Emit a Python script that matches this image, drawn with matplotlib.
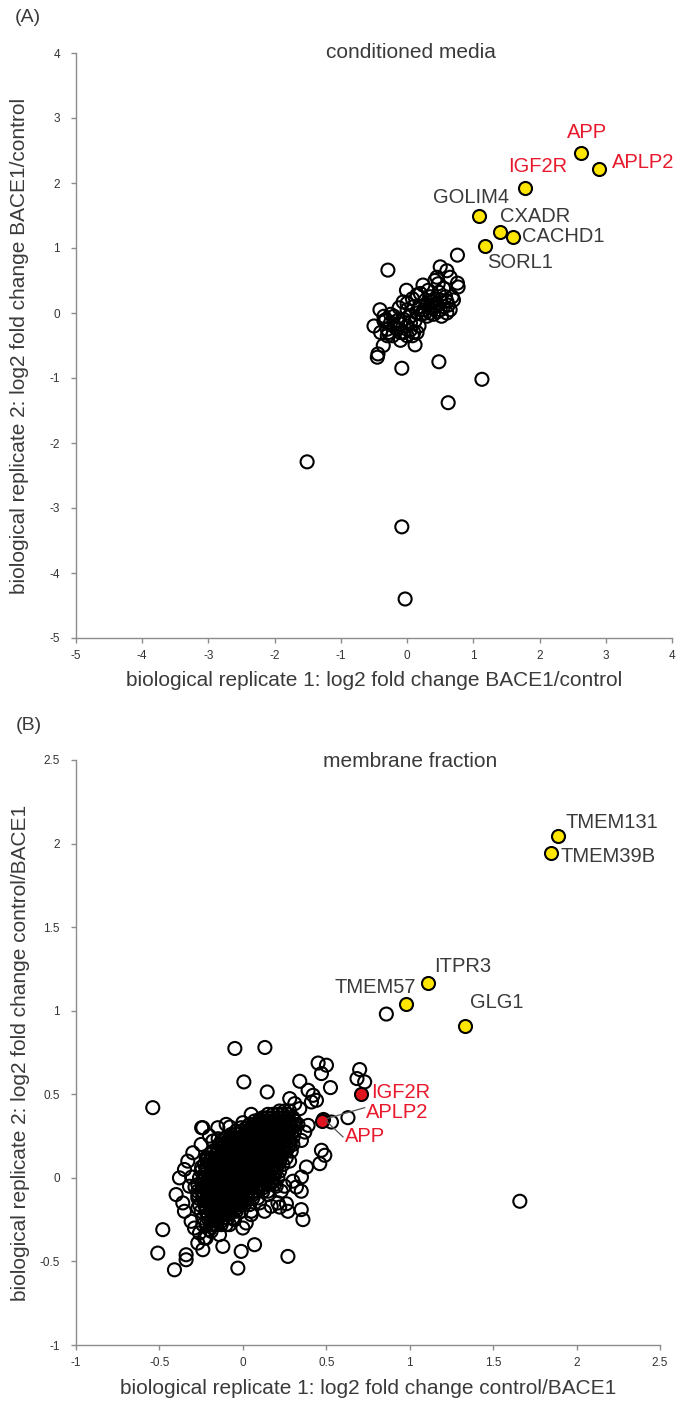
import matplotlib
matplotlib.use("Agg")
import matplotlib.pyplot as plt

plt.rcParams['font.family'] = ['Liberation Sans', 'DejaVu Sans']

W, H = 684, 1408
TXT = '#3a3a3a'
RED = '#e8192c'
YEL = '#ffe600'

# ---- panel A: conditioned media ----
a_open_x = [-1.51, -0.08, -0.03, 1.13, 0.62, 0.48, -0.08, -0.45, -0.44, -0.36, 0.12,
            -0.5, -0.1, -0.01, 0.5, 0.42, 0.45, 0.47, 0.76, 0.77, 0.24, 0.15, 0.68,
            -0.06, -0.41, -0.32, -0.3, -0.28, 0.05, 0.1, -0.29, 0.76,
            0.2, 0.25, 0.3, 0.35, 0.4, 0.45, 0.5, 0.55, 0.6, 0.3, 0.38, 0.42, 0.5,
            0.58, 0.62, 0.35, 0.28, 0.22, 0.15, 0.1, 0.05, 0.0, -0.05, -0.15, -0.2,
            -0.25, -0.18, -0.1, 0.0, 0.05, 0.12, 0.18, 0.2, 0.32, 0.48, 0.55, 0.4,
            0.46, 0.52, 0.6, 0.65, 0.7, 0.33, 0.37, 0.43, 0.27, -0.35, -0.4, -0.22,
            0.08, 0.0, -0.12, 0.65, 0.6, -0.35, -0.25, -0.2, -0.15, -0.05, 0.0,
            0.08, 0.15, -0.3, -0.1]
a_open_y = [-2.29, -3.29, -4.4, -1.02, -1.38, -0.75, -0.85, -0.68, -0.63, -0.5, -0.49,
            -0.2, -0.17, 0.35, 0.71, 0.5, 0.55, 0.45, 0.46, 0.4, 0.43, 0.28, 0.25,
            0.17, 0.05, -0.1, -0.25, -0.3, -0.26, -0.3, 0.66, 0.89,
            0.1, 0.05, 0.12, 0.0, 0.08, 0.15, 0.2, 0.1, 0.18, -0.05, 0.18, 0.22, 0.05,
            0.25, 0.12, 0.25, 0.2, -0.02, 0.0, 0.1, -0.05, 0.05, -0.1, -0.12, -0.05,
            -0.15, -0.22, -0.3, -0.35, -0.15, -0.12, -0.2, 0.3, 0.35, 0.32, 0.38, -0.02,
            0.02, -0.05, 0.0, 0.05, 0.2, 0.08, 0.12, 0.1, 0.0, -0.12, -0.3, -0.35,
            0.22, 0.15, 0.08, 0.55, 0.65, -0.05, -0.02, -0.18, -0.25, -0.3, -0.2,
            -0.35, -0.3, -0.35, -0.42]

a_genes = ['APP', 'APLP2', 'IGF2R', 'GOLIM4', 'CXADR', 'CACHD1', 'SORL1']
a_gene_x = [2.62, 2.9, 1.78, 1.08, 1.4, 1.6, 1.17]
a_gene_y = [2.46, 2.22, 1.92, 1.5, 1.25, 1.17, 1.03]
a_gene_red = [True, True, True, False, False, False, False]
# label anchor (x, y) and horizontal alignment
a_lab_x = [2.72, 3.1, 1.97, 0.96, 1.4, 1.74, 1.21]
a_lab_y = [2.78, 2.31, 2.25, 1.78, 1.49, 1.17, 0.77]
a_lab_ha = ['center', 'left', 'center', 'center', 'left', 'left', 'left']

# ---- panel B: membrane fraction ----
b_open_x = [0.86, 1.66, -0.54, -0.048, 0.132, 0.006, 0.146, 0.451, 0.501, 0.471, 0.525,
            0.70, 0.684, 0.73, 0.63, 0.531, 0.341, 0.391, 0.421, 0.441, 0.411, 0.281,
            0.311, 0.341, -0.247, -0.148, -0.128, -0.078, -0.307, -0.287, -0.217,
            -0.247, 0.321, 0.351, 0.381, 0.461, 0.471, 0.491, 0.391, 0.371, 0.351,
            0.261, 0.221,
            -0.48, -0.51, -0.41, -0.34, -0.34, -0.24, -0.27, -0.12, -0.03, -0.01,
            0.07, 0.27, 0.27, 0.35, 0.36, 0.35, -0.31, -0.29, -0.27, -0.27, -0.08,
            0.02, 0.05, 0.13, 0.17, 0.21, 0.23, -0.19, -0.14, -0.23,
            -0.4, -0.38, -0.35, -0.33, -0.3, -0.25, -0.2, -0.15, -0.1, -0.32, -0.36,
            -0.35, -0.22, -0.18, -0.24, -0.15, 0.05, 0.1, 0.0, 0.1, 0.15, 0.2, 0.05,
            -0.05, -0.1, 0.0, -0.18, 0.3, 0.28, 0.25, -0.26, -0.22, -0.2, -0.24]
b_open_y = [0.98, -0.14, 0.42, 0.774, 0.78, 0.574, 0.514, 0.687, 0.674, 0.624, 0.54,
            0.648, 0.594, 0.574, 0.36, 0.334, 0.578, 0.524, 0.494, 0.464, 0.454, 0.474,
            0.444, 0.414, 0.30, 0.234, 0.204, 0.304, 0.005, -0.055, 0.105,
            0.065, -0.055, 0.005, 0.065, 0.085, 0.165, 0.135, 0.314, 0.274, 0.224,
            -0.155, -0.175,
            -0.31, -0.45, -0.55, -0.46, -0.49, -0.43, -0.39, -0.41, -0.54, -0.44,
            -0.4, -0.47, -0.2, -0.19, -0.25, -0.08, -0.26, -0.3, -0.18, -0.1, -0.28,
            -0.27, -0.22, -0.2, -0.17, -0.15, -0.08, -0.32, -0.34, -0.36,
            -0.1, 0.0, 0.05, 0.1, 0.15, 0.2, 0.25, 0.3, 0.32, -0.05, -0.15,
            -0.2, 0.12, 0.22, 0.3, 0.12, 0.38, 0.35, 0.33, -0.15, -0.1, -0.05, -0.2,
            -0.25, -0.2, -0.3, -0.28, -0.02, 0.1, -0.05, -0.33, -0.36, -0.31, -0.28]

# dense core of panel B, read row by row (two staggered passes)
b_core_y = [0.40, 0.38, 0.36, 0.34, 0.32, 0.30, 0.28, 0.26, 0.24, 0.22, 0.20, 0.18,
            0.16, 0.14, 0.12, 0.10, 0.08, 0.06, 0.04, 0.02, 0.00, -0.02, -0.04,
            -0.06, -0.08, -0.10, -0.12, -0.14, -0.16, -0.18, -0.20, -0.22, -0.24,
            -0.26, -0.28]
b_core_x = [
    [0.22, 0.28],
    [0.15, 0.21, 0.27],
    [0.12, 0.18, 0.24, 0.30],
    [0.07, 0.13, 0.19, 0.25, 0.31],
    [0.04, 0.10, 0.16, 0.22, 0.28, 0.33],
    [-0.01, 0.05, 0.11, 0.17, 0.23, 0.29],
    [-0.04, 0.02, 0.08, 0.14, 0.20, 0.26, 0.31],
    [-0.07, -0.02, 0.03, 0.09, 0.15, 0.21, 0.27],
    [-0.10, -0.05, 0.0, 0.06, 0.12, 0.18, 0.24, 0.30],
    [-0.12, -0.07, -0.01, 0.05, 0.11, 0.17, 0.23, 0.28],
    [-0.14, -0.09, -0.04, 0.02, 0.08, 0.14, 0.20, 0.26, 0.30],
    [-0.15, -0.09, -0.03, 0.03, 0.09, 0.15, 0.21, 0.27],
    [-0.18, -0.12, -0.06, 0.0, 0.06, 0.12, 0.18, 0.24, 0.29],
    [-0.19, -0.13, -0.07, -0.01, 0.05, 0.11, 0.17, 0.23],
    [-0.21, -0.15, -0.09, -0.03, 0.03, 0.09, 0.15, 0.21, 0.26],
    [-0.20, -0.14, -0.08, -0.02, 0.04, 0.10, 0.16, 0.22],
    [-0.23, -0.17, -0.11, -0.05, 0.01, 0.07, 0.13, 0.19, 0.24],
    [-0.22, -0.16, -0.10, -0.04, 0.02, 0.08, 0.14, 0.20],
    [-0.25, -0.19, -0.13, -0.07, -0.01, 0.05, 0.11, 0.17, 0.22],
    [-0.23, -0.17, -0.11, -0.05, 0.01, 0.07, 0.13, 0.19],
    [-0.26, -0.20, -0.14, -0.08, -0.02, 0.04, 0.10, 0.16, 0.21],
    [-0.24, -0.18, -0.12, -0.06, 0.0, 0.06, 0.12, 0.17],
    [-0.27, -0.21, -0.15, -0.09, -0.03, 0.03, 0.09, 0.15, 0.19],
    [-0.24, -0.18, -0.12, -0.06, 0.0, 0.06, 0.12],
    [-0.27, -0.21, -0.15, -0.09, -0.03, 0.03, 0.09, 0.15],
    [-0.24, -0.18, -0.12, -0.06, 0.0, 0.06],
    [-0.27, -0.21, -0.15, -0.09, -0.03, 0.03, 0.09],
    [-0.23, -0.17, -0.11, -0.05, 0.01],
    [-0.26, -0.20, -0.14, -0.08, -0.02, 0.04],
    [-0.22, -0.16, -0.10, -0.04],
    [-0.25, -0.19, -0.13, -0.07, -0.01],
    [-0.21, -0.15, -0.09],
    [-0.24, -0.18, -0.12, -0.06],
    [-0.19, -0.13],
    [-0.22, -0.16, -0.10],
]
b_core_x2 = [
    [0.25],
    [0.18, 0.24],
    [0.15, 0.21, 0.27],
    [0.10, 0.16, 0.22, 0.28],
    [0.07, 0.13, 0.19, 0.25, 0.30],
    [0.02, 0.08, 0.14, 0.20, 0.26],
    [-0.01, 0.05, 0.11, 0.17, 0.23, 0.28],
    [-0.04, 0.01, 0.06, 0.12, 0.18, 0.24],
    [-0.07, -0.02, 0.03, 0.09, 0.15, 0.21, 0.27],
    [-0.09, -0.04, 0.02, 0.08, 0.14, 0.20, 0.25],
    [-0.11, -0.06, -0.01, 0.05, 0.11, 0.17, 0.23, 0.28],
    [-0.12, -0.06, 0.0, 0.06, 0.12, 0.18, 0.24],
    [-0.15, -0.09, -0.03, 0.03, 0.09, 0.15, 0.21, 0.26],
    [-0.16, -0.10, -0.04, 0.02, 0.08, 0.14, 0.20],
    [-0.18, -0.12, -0.06, 0.0, 0.06, 0.12, 0.18, 0.23],
    [-0.17, -0.11, -0.05, 0.01, 0.07, 0.13, 0.19],
    [-0.20, -0.14, -0.08, -0.02, 0.04, 0.10, 0.16, 0.21],
    [-0.19, -0.13, -0.07, -0.01, 0.05, 0.11, 0.17],
    [-0.22, -0.16, -0.10, -0.04, 0.02, 0.08, 0.14, 0.19],
    [-0.20, -0.14, -0.08, -0.02, 0.04, 0.10, 0.16],
    [-0.23, -0.17, -0.11, -0.05, 0.01, 0.07, 0.13, 0.18],
    [-0.21, -0.15, -0.09, -0.03, 0.03, 0.09, 0.14],
    [-0.24, -0.18, -0.12, -0.06, 0.0, 0.06, 0.12],
    [-0.21, -0.15, -0.09, -0.03, 0.03, 0.09],
    [-0.24, -0.18, -0.12, -0.06, 0.0, 0.06, 0.12],
    [-0.21, -0.15, -0.09, -0.03, 0.03],
    [-0.24, -0.18, -0.12, -0.06, 0.0, 0.06],
    [-0.20, -0.14, -0.08, -0.02],
    [-0.23, -0.17, -0.11, -0.05, 0.01],
    [-0.19, -0.13, -0.07],
    [-0.22, -0.16, -0.10, -0.04],
    [-0.18, -0.12],
    [-0.21, -0.15, -0.09],
    [-0.16],
    [-0.19, -0.13],
]

b_genes = ['TMEM131', 'TMEM39B', 'ITPR3', 'TMEM57', 'GLG1']
b_gene_x = [1.89, 1.845, 1.11, 0.975, 1.33]
b_gene_y = [2.045, 1.945, 1.165, 1.04, 0.91]
b_lab_x = [1.935, 1.905, 1.145, 1.035, 1.36]
b_lab_y = [2.125, 1.925, 1.265, 1.14, 1.05]
b_lab_ha = ['left', 'left', 'left', 'right', 'left']

b_red_genes = ['IGF2R', 'APLP2', 'APP']
b_red_x = [0.71, 0.48, 0.475]
b_red_y = [0.50, 0.355, 0.34]
b_red_lab_x = [0.77, 0.74, 0.61]
b_red_lab_y = [0.51, 0.39, 0.245]

MS = 88
LW = 1.5


def style(ax, lo, hi, step, labels):
    for s in ['top', 'right']:
        ax.spines[s].set_visible(False)
    for s in ['left', 'bottom']:
        ax.spines[s].set_color('#8c8c8c')
        ax.spines[s].set_linewidth(1.0)
    ticks = [lo + i * step for i in range(len(labels))]
    ax.set_xlim(lo, hi)
    ax.set_ylim(lo, hi)
    ax.set_xticks(ticks)
    ax.set_yticks(ticks)
    ax.set_xticklabels(labels)
    ax.set_yticklabels(labels)
    ax.tick_params(direction='out', length=3.5, width=1, color='#8c8c8c',
                   labelsize=8.5, labelcolor='#333333')
    ax.tick_params(axis='y', pad=8)
    ax.tick_params(axis='x', pad=5)


fig = plt.figure(figsize=(W / 100, H / 100), dpi=100)

# panel A
axA = fig.add_axes([76 / W, 1 - 638 / H, 596 / W, 585 / H])
style(axA, -5, 4, 1, ['-5', '-4', '-3', '-2', '-1', '0', '1', '2', '3', '4'])
axA.scatter(a_open_x, a_open_y, s=MS, facecolors='none', edgecolors='black',
            linewidths=LW, zorder=2, clip_on=False)
axA.scatter(a_gene_x, a_gene_y, s=MS, facecolors=YEL, edgecolors='black',
            linewidths=LW, zorder=3, clip_on=False)
for g, lx, ly, ha, red in zip(a_genes, a_lab_x, a_lab_y, a_lab_ha, a_gene_red):
    axA.text(lx, ly, g, ha=ha, va='center', fontsize=14.5,
             color=RED if red else TXT)
axA.text(0.5, -43 / 585, 'biological replicate 1: log2 fold change BACE1/control',
         transform=axA.transAxes, ha='center', va='center', fontsize=15, color=TXT)
axA.text(-56 / 596, 0.5, 'biological replicate 2: log2 fold change BACE1/control',
         transform=axA.transAxes, ha='center', va='center', rotation=90,
         fontsize=15, color=TXT)
fig.text(411 / W, 1 - 52 / H, 'conditioned media', ha='center', va='center',
         fontsize=15, color=TXT)
fig.text(15 / W, 1 - 18 / H, '(A)', ha='left', va='center', fontsize=14, color=TXT)

# panel B
axB = fig.add_axes([76 / W, 1 - 1345 / H, 584 / W, 585 / H])
style(axB, -1, 2.5, 0.5, ['-1', '-0.5', '0', '0.5', '1', '1.5', '2', '2.5'])
core_x = [x for rows in (b_core_x, b_core_x2) for row in rows for x in row]
core_y = [y for rows in (b_core_x, b_core_x2)
          for y, row in zip(b_core_y, rows) for _ in row]
axB.scatter(core_x, core_y, s=MS, facecolors='none', edgecolors='black',
            linewidths=LW, zorder=2)
axB.scatter(b_open_x, b_open_y, s=MS, facecolors='none', edgecolors='black',
            linewidths=LW, zorder=2)
axB.scatter(b_gene_x, b_gene_y, s=MS, facecolors=YEL, edgecolors='black',
            linewidths=LW, zorder=3)
axB.scatter(b_red_x, b_red_y, s=MS, facecolors='#e0141e', edgecolors='black',
            linewidths=LW, zorder=3)
for g, lx, ly, ha in zip(b_genes, b_lab_x, b_lab_y, b_lab_ha):
    axB.text(lx, ly, g, ha=ha, va='center', fontsize=14.5, color=TXT)
for g, gx, gy, lx, ly in zip(b_red_genes, b_red_x, b_red_y, b_red_lab_x, b_red_lab_y):
    axB.text(lx, ly, g, ha='left', va='center', fontsize=14.5, color=RED, zorder=4)
    if g != 'IGF2R':
        axB.plot([gx + 0.025, lx - 0.01], [gy, ly + (0.03 if g == 'APLP2' else 0.0)],
                 color='#555555', lw=0.9, zorder=4)
axB.text(0.5, -43 / 585, 'biological replicate 1: log2 fold change control/BACE1',
         transform=axB.transAxes, ha='center', va='center', fontsize=15, color=TXT)
axB.text(-56 / 584, 0.5, 'biological replicate 2: log2 fold change control/BACE1',
         transform=axB.transAxes, ha='center', va='center', rotation=90,
         fontsize=15, color=TXT)
fig.text(410 / W, 1 - 762 / H, 'membrane fraction', ha='center', va='center',
         fontsize=15, color=TXT)
fig.text(16 / W, 1 - 725 / H, '(B)', ha='left', va='center', fontsize=14, color=TXT)

fig.savefig('out.png', dpi=100)
